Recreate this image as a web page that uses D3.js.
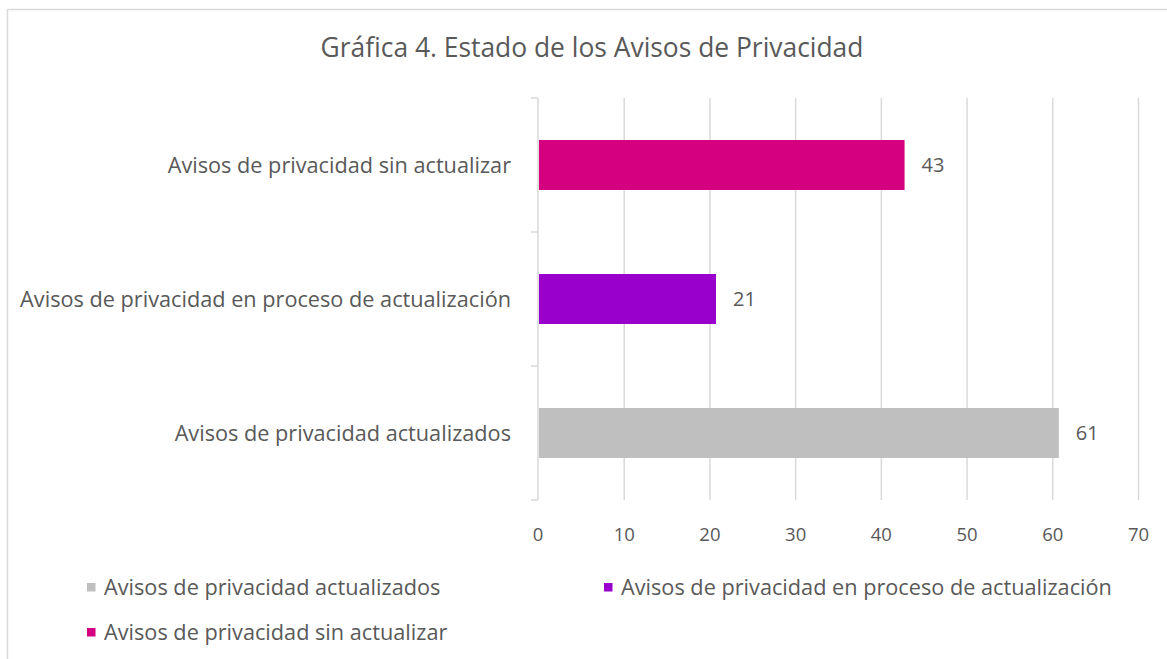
<!DOCTYPE html>
<html>
<head>
<meta charset="utf-8">
<script src="https://cdn.jsdelivr.net/npm/d3@7"></script>
<style>
  body { margin: 0; background: #fff; }
  text { font-family: "Open Sans", sans-serif; fill: #595959; }
</style>
</head>
<body>
<div id="chart"></div>
<script>
// data
var categories = ["Avisos de privacidad sin actualizar", "Avisos de privacidad en proceso de actualización", "Avisos de privacidad actualizados"]
var values = [43, 21, 61]
var colors = ["#d5007f", "#9900cc", "#bfbfbf"]
var legendOrder = ["Avisos de privacidad actualizados", "Avisos de privacidad en proceso de actualización", "Avisos de privacidad sin actualizar"]
var xTicks = [0, 10, 20, 30, 40, 50, 60, 70]
var title = "Gráfica 4. Estado de los Avisos de Privacidad"

var svgWidth = 1167
var svgHeight = 659

var margin = { top: 98, right: 29, bottom: 159, left: 538 }
var width = svgWidth - margin.left - margin.right
var height = svgHeight - margin.top - margin.bottom

var svg = d3.select("#chart")
  .append("svg")
  .attr("width", svgWidth)
  .attr("height", svgHeight)

// outer border
svg.append("rect")
  .attr("x", 7.5).attr("y", 9.5)
  .attr("width", svgWidth).attr("height", svgHeight)
  .attr("fill", "none")
  .attr("stroke", "#d9d9d9")
  .attr("stroke-width", 1.5)

// title
svg.append("text")
  .attr("x", 592)
  .attr("y", 57)
  .attr("text-anchor", "middle")
  .style("font-size", "26.4px")
  .text(title)

var chartGroup = svg.append("g")
  .attr("transform", `translate(${margin.left}, ${margin.top})`)

// scales
var xScale = d3.scaleLinear()
  .domain([0, 70])
  .range([0, width])

var yScale = d3.scaleBand()
  .domain(categories)
  .range([0, height])
  .paddingInner(0.627)
  .paddingOuter(0.3135)

var yEdges = d3.scaleBand()
  .domain(categories)
  .range([0, height])

// gridlines + tick labels
var bottomAxis = d3.axisBottom(xScale)
  .tickValues(xTicks.slice(1))
  .tickSize(-height)
  .tickPadding(28)

var xAxisG = chartGroup.append("g")
  .attr("transform", `translate(0, ${height})`)
  .call(bottomAxis)
xAxisG.select(".domain").remove()
xAxisG.selectAll("line").attr("stroke", "#d9d9d9").attr("stroke-width", 1.5)
xAxisG.selectAll("text")
  .style("font-size", "18.5px")
  .style("font-family", "'Open Sans', sans-serif")
  .attr("fill", "#595959")

// zero label
xAxisG.append("text")
  .attr("x", xScale(0))
  .attr("y", 28)
  .attr("dy", "0.71em")
  .attr("text-anchor", "middle")
  .attr("fill", "#595959")
  .style("font-size", "18.5px")
  .text(xTicks[0])

// category axis
chartGroup.append("line")
  .attr("x1", 0).attr("x2", 0)
  .attr("y1", 0).attr("y2", height)
  .attr("stroke", "#d9d9d9").attr("stroke-width", 1.5)

chartGroup.selectAll(".ytick")
  .data(categories.map(c => yEdges(c)).concat([height]))
  .enter()
  .append("line")
  .attr("class", "ytick")
  .attr("x1", -7).attr("x2", 0)
  .attr("y1", d => d).attr("y2", d => d)
  .attr("stroke", "#d9d9d9").attr("stroke-width", 1.5)

chartGroup.selectAll(".ylabel")
  .data(categories)
  .enter()
  .append("text")
  .attr("class", "ylabel")
  .attr("x", -27)
  .attr("y", d => yEdges(d) + yEdges.bandwidth() / 2)
  .attr("dy", "0.35em")
  .attr("text-anchor", "end")
  .style("font-size", "21.7px")
  .text(d => d)

// bars
chartGroup.selectAll(".bar")
  .data(categories)
  .enter()
  .append("rect")
  .attr("class", "bar")
  .attr("x", xScale(0) + 1)
  .attr("y", d => yScale(d))
  .attr("width", (d, i) => xScale(values[i]) - xScale(0) - 3)
  .attr("height", yScale.bandwidth())
  .attr("fill", (d, i) => colors[i])

// value labels
chartGroup.selectAll(".vlabel")
  .data(categories)
  .enter()
  .append("text")
  .attr("class", "vlabel")
  .attr("x", (d, i) => xScale(values[i]) + 15)
  .attr("y", d => yScale(d) + yScale.bandwidth() / 2)
  .attr("dy", "0.35em")
  .style("font-size", "20px")
  .text((d, i) => values[i])

// legend
var legendPos = [[87, 587], [604, 587], [87, 632]]
var legend = svg.selectAll(".legend")
  .data(legendOrder)
  .enter()
  .append("g")
  .attr("class", "legend")
  .attr("transform", (d, i) => `translate(${legendPos[i][0]}, ${legendPos[i][1]})`)

legend.append("rect")
  .attr("x", 0).attr("y", -4)
  .attr("width", 8.5).attr("height", 8.5)
  .attr("fill", d => colors[categories.indexOf(d)])

legend.append("text")
  .attr("x", 17)
  .attr("y", 0)
  .attr("dy", "0.35em")
  .style("font-size", "21.7px")
  .text(d => d)
</script>
</body>
</html>
